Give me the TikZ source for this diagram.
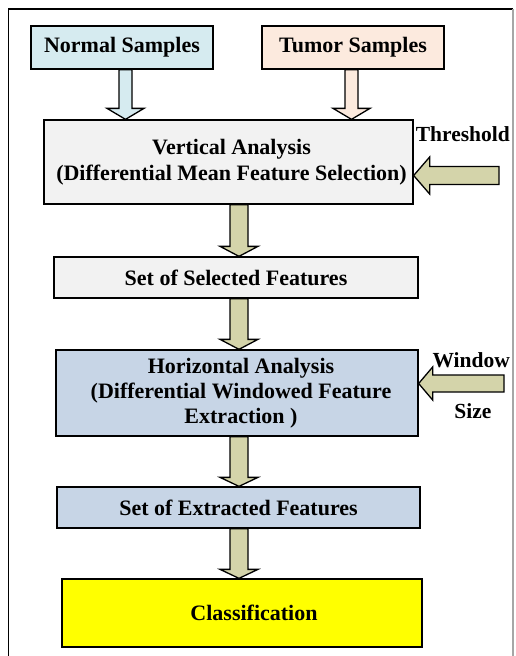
\documentclass[tikz,border=0pt]{standalone}
\usepackage{fontspec}
\setmainfont{Liberation Serif}
\usetikzlibrary{calc}
\definecolor{cyanfill}{HTML}{D6EBF0}
\definecolor{peachfill}{HTML}{FCEADE}
\definecolor{grayfill}{HTML}{F2F2F2}
\definecolor{bluefill}{HTML}{C7D5E6}
\definecolor{khaki}{HTML}{D4D4AA}
\definecolor{yel}{HTML}{FFFF00}
\tikzset{
  box/.style={draw=black, line width=1.3pt, inner sep=0pt, font=\bfseries\fontsize{22}{25.5}\selectfont, align=center},
  lbl/.style={inner sep=0pt, font=\bfseries\fontsize{21.5}{25}\selectfont},
  blk/.style={draw=black, line width=1.3pt, line join=miter},
}
% vertical block arrow: from node #1 (south) to node #2 (north) at x=#3; shaft half #4, head half #5, head length #6, fill #7
\newcommand{\blkdown}[7]{%
  \draw[blk,fill=#7] let \p1=(#1.south), \p2=(#2.north) in
    ({#3pt-#4pt},\y1) -- ({#3pt+#4pt},\y1) -- ({#3pt+#4pt},\y2+#6pt) -- ({#3pt+#5pt},\y2+#6pt)
    -- (#3pt,\y2) -- ({#3pt-#5pt},\y2+#6pt) -- ({#3pt-#4pt},\y2+#6pt) -- cycle;}
% leftward block arrow: from coordinate #1 to east side of node #2; shaft half #3, head half #4, head length #5
\newcommand{\blkleft}[5]{%
  \draw[blk,fill=khaki] let \p1=(#1), \p2=(#2.east) in
    (\x1,\y1+#3pt) -- (\x2+#5pt,\y1+#3pt) -- (\x2+#5pt,\y1+#4pt) -- (\x2,\y1)
    -- (\x2+#5pt,\y1-#4pt) -- (\x2+#5pt,\y1-#3pt) -- (\x1,\y1-#3pt) -- cycle;}
\begin{document}
\begin{tikzpicture}[x=1pt,y=-1pt]
\useasboundingbox (0,0) rectangle (515,656);
\fill[white] (0,0) rectangle (515,656);
% outer frame
\draw[line width=1.3pt] (8.5,680) -- (8.5,9) -- (513,9);
\draw[line width=1.3pt, gray!70] (513,9) -- (513,680);

\node[box, fill=cyanfill, minimum width=182pt, minimum height=43pt] (ns) at (122,47.5) {Normal Samples};
\node[box, fill=peachfill, minimum width=182pt, minimum height=43pt] (ts) at (353,47.5) {Tumor Samples};

\node[box, fill=grayfill, minimum width=369pt, minimum height=84pt] (va) at (228.5,162)
  {\hspace*{6pt}Vertical Analysis\\\hspace*{6pt}(Differential Mean Feature Selection)};
\node[box, fill=grayfill, minimum width=364pt, minimum height=41pt] (ssf) at (236,277.5) {Set of Selected Features};
\node[box, fill=bluefill, minimum width=362pt, minimum height=86pt, font=\bfseries\fontsize{22}{25}\selectfont] (ha) at (237,393)
  {\hspace*{8pt}Horizontal Analysis\\\hspace*{8pt}(Differential Windowed Feature\\\hspace*{8pt}Extraction )};
\node[box, fill=bluefill, minimum width=363pt, minimum height=41pt] (sef) at (238.5,507.5) {Set of Extracted Features};
\node[box, fill=yel, minimum width=360pt, minimum height=68pt] (cl) at (242,613) {\hspace*{24pt}Classification};

\node[lbl, anchor=east] (thr) at (510,134) {Threshold};
\node[lbl, anchor=east] (win) at (510,360) {Window};
\node[lbl] (siz) at (473,411) {Size};

\coordinate (thrtail) at (499,175.5);
\coordinate (wintail) at (504,383.5);

\blkdown{ns}{va}{125.5}{6.5}{18.5}{11}{cyanfill}
\blkdown{ts}{va}{351.5}{6.5}{18.5}{11}{peachfill}
\blkdown{va}{ssf}{239}{9}{19}{10}{khaki}
\blkdown{ssf}{ha}{239}{9}{19}{10}{khaki}
\blkdown{ha}{sef}{239}{9}{19}{9}{khaki}
\blkdown{sef}{cl}{239}{9}{19}{9}{khaki}

\blkleft{thrtail}{va}{9}{18.5}{16}
\blkleft{wintail}{ha}{8.5}{16.5}{14}
\end{tikzpicture}
\end{document}
